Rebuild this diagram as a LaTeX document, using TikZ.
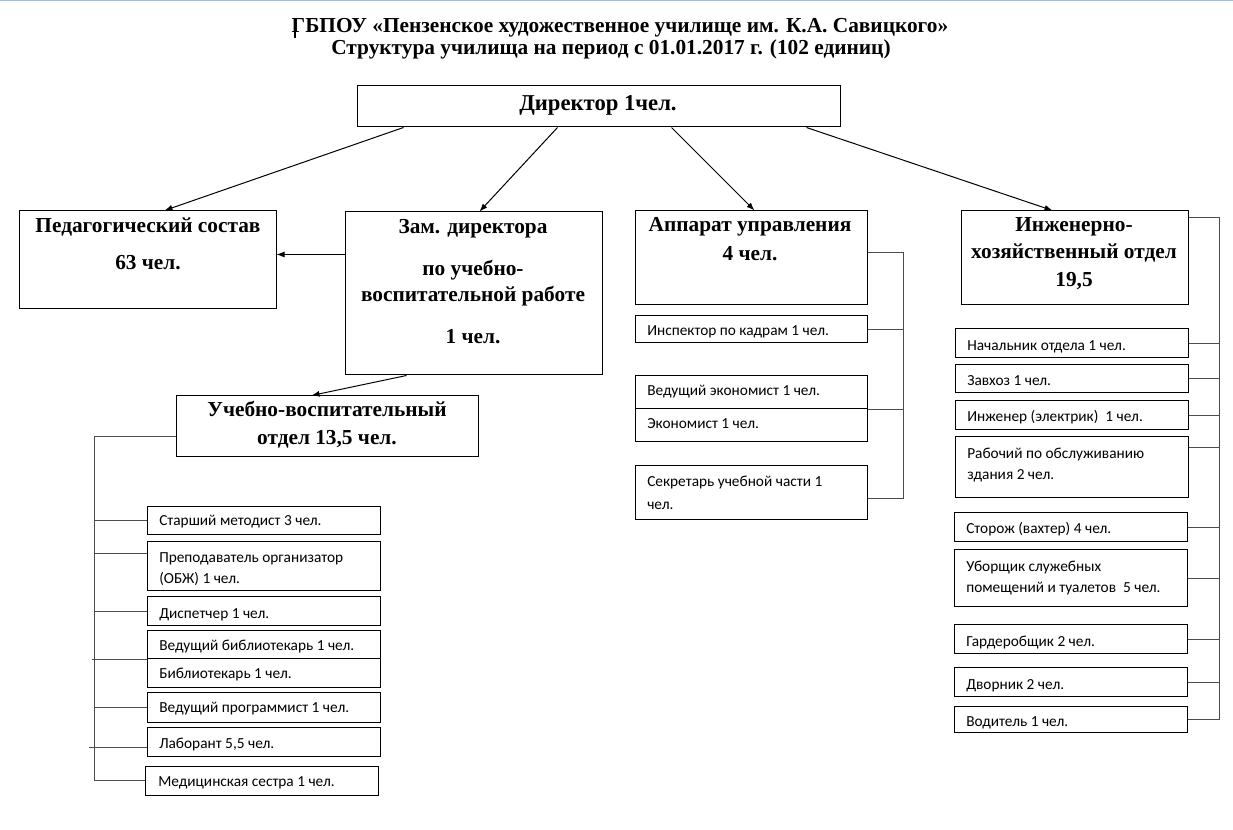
\documentclass[tikz,border=0pt]{standalone}
\usepackage{fontspec}
\setmainfont{Liberation Serif}
\newfontfamily\calfont{Carlito}
\usetikzlibrary{arrows.meta,fit,calc}
\begin{document}
\begin{tikzpicture}[x=0.75pt,y=-0.75pt,
  box/.style={draw, line width=0.75pt, inner sep=0pt},
  head/.style={font=\fontsize{16}{18}\selectfont\bfseries, anchor=mid, inner sep=0pt},
  small/.style={font=\calfont\fontsize{11.5}{13}\selectfont, anchor=mid west, inner sep=0pt},
  arr/.style={line width=0.75pt, -{Latex[length=6pt,width=4.5pt]}},
  link/.style={line width=0.75pt, draw=black!70}]
\useasboundingbox (0,0) rectangle (1233,830);
\fill[white] (0,0) rectangle (1233,830);
\draw[line width=1.5pt, color={rgb,255:red,168;green,188;blue,212}] (0,0.5) -- (1233,0.5);

% title
\node[head] (title1) at (620,29) {ГБПОУ «Пензенское художественное училище им. К.А. Савицкого»};
\node[head] (title2) at (611,51.5) {Структура училища на период с 01.01.2017 г. (102 единиц)};
\draw[line width=1.5pt] (295,19) -- (295,38);

% main boxes
\node[box, fit={(357,86) (840,127)}] (dir) {};
\node[box, fit={(19,211) (276,309)}] (ped) {};
\node[box, fit={(345,212) (602,375)}] (zam) {};
\node[box, fit={(176,396) (478,457)}] (uch) {};
\node[box, fit={(635,211) (867,305)}] (app) {};
\node[box, fit={(961,211) (1188,305)}] (ing) {};

\node[head, font=\fontsize{17}{19}\selectfont\bfseries] (tdir) at (598,107) {Директор 1чел.};
\node[head] (tped1) at (148,229) {Педагогический состав};
\node[head] (tped2) at (148,266) {63 чел.};
\node[head] (tzam1) at (473,230) {Зам. директора};
\node[head] (tzam2) at (473,272) {по учебно-};
\node[head] (tzam3) at (473,298) {воспитательной работе};
\node[head] (tzam4) at (473,340) {1 чел.};
\node[head] (tuch1) at (327,413) {Учебно-воспитательный};
\node[head] (tuch2) at (327,441) {отдел 13,5 чел.};
\node[head] (tapp1) at (750,228) {Аппарат управления};
\node[head] (tapp2) at (750,257) {4 чел.};
\node[head] (ting1) at (1074,228) {Инженерно-};
\node[head] (ting2) at (1074,255) {хозяйственный отдел};
\node[head] (ting3) at (1074,283) {19,5};

% arrows
\draw[arr] ($(dir.south west)+(47,0)$) -- ($(ped.north west)+(146,0)$);
\draw[arr] ($(dir.south west)+(201,0)$) -- ($(zam.north west)+(135,0)$);
\draw[arr] ($(dir.south west)+(315,0)$) -- ($(app.north west)+(120,0)$);
\draw[arr] ($(dir.south west)+(450,0)$) -- ($(ing.north west)+(92,0)$);
\draw[arr] ($(zam.north west)+(0,43)$) -- ($(ped.north east)+(0,44)$);
\draw[arr] ($(zam.south west)+(62,0)$) -- ($(uch.north west)+(136,0)$);

% left column
\node[box, fit={(147,507) (380,535)}] (sm) {};
\node[box, fit={(147,542) (380,591)}] (prep) {};
\node[box, fit={(147,597) (380,626)}] (disp) {};
\node[box, fit={(147,631) (380,659)}] (vbib) {};
\node[box, fit={(147,659) (380,688)}] (bib) {};
\node[box, fit={(147,693) (380,722)}] (prog) {};
\node[box, fit={(147,727) (380,756)}] (lab) {};
\node[box, fit={(145,766) (378,795)}] (med) {};
\node[small] (tsm) at (159,522) {Старший методист 3 чел.};
\node[small] (tprep1) at (159,559) {Преподаватель организатор};
\node[small] (tprep2) at (159,580) {(ОБЖ) 1 чел.};
\node[small] (tdisp) at (159,615) {Диспетчер 1 чел.};
\node[small] (tvbib) at (159,647) {Ведущий библиотекарь 1 чел.};
\node[small] (tbib) at (159,675) {Библиотекарь 1 чел.};
\node[small] (tprog) at (159,709) {Ведущий программист 1 чел.};
\node[small] (tlab) at (159,745) {Лаборант 5,5 чел.};
\node[small] (tmed) at (158,783) {Медицинская сестра 1 чел.};

\draw[link] ($(uch.north west)+(0,41)$) -- ++(-81,0) |- (med.west);
\draw[link] (sm.west) -- ++(-52,0);
\draw[link] ($(prep.north west)+(0,12)$) -- ++(-52,0);
\draw[link] (disp.west) -- ++(-52,0);
\draw[link] (vbib.south west) -- ++(-55,0);
\draw[link] (prog.west) -- ++(-52,0);
\draw[link] ($(lab.north west)+(0,21)$) -- ++(-58,0);

% apparatus column
\node[box, fit={(635,316) (867,343)}] (insp) {};
\node[box, fit={(635,376) (867,409)}] (vek) {};
\node[box, fit={(635,409) (867,442)}] (ek) {};
\node[box, fit={(635,466) (867,520)}] (sec) {};
\node[small] (tinsp) at (647,332) {Инспектор по кадрам 1 чел.};
\node[small] (tvek) at (647,392) {Ведущий экономист 1 чел.};
\node[small] (tek) at (647,425) {Экономист 1 чел.};
\node[small] (tsec1) at (647,483) {Секретарь учебной части 1};
\node[small] (tsec2) at (647,506) {чел.};

\draw[link] ($(app.north east)+(0,42)$) -| ($(sec.north east)+(36,33)$) -- ($(sec.north east)+(0,33)$);
\draw[link] (insp.east) -- ++(36,0);
\draw[link] (vek.south east) -- ++(36,0);

% engineering column
\node[box, fit={(955,329) (1188,358)}] (nach) {};
\node[box, fit={(955,365) (1188,393)}] (zav) {};
\node[box, fit={(955,401) (1188,430)}] (inzh) {};
\node[box, fit={(955,437) (1188,498)}] (rab) {};
\node[box, fit={(954,513) (1187,542)}] (stor) {};
\node[box, fit={(954,550) (1187,607)}] (ub) {};
\node[box, fit={(954,625) (1187,654)}] (gard) {};
\node[box, fit={(954,668) (1187,697)}] (dvor) {};
\node[box, fit={(954,706) (1187,732)}] (vod) {};
\node[small] (tnach) at (967,347) {Начальник отдела 1 чел.};
\node[small] (tzav) at (967,382) {Завхоз 1 чел.};
\node[small] (tinzh) at (967,418) {Инженер (электрик)\ \ 1 чел.};
\node[small] (trab1) at (967,455) {Рабочий по обслуживанию};
\node[small] (trab2) at (967,476) {здания 2 чел.};
\node[small] (tstor) at (966,530) {Сторож (вахтер) 4 чел.};
\node[small] (tub1) at (966,568) {Уборщик служебных};
\node[small] (tub2) at (966,589) {помещений и туалетов\ \ 5 чел.};
\node[small] (tgard) at (966,643) {Гардеробщик 2 чел.};
\node[small] (tdvor) at (966,686) {Дворник 2 чел.};
\node[small] (tvod) at (966,723) {Водитель 1 чел.};

\draw[link] ($(ing.north east)+(0,7)$) -- ++(31,0) |- (vod.east);
\draw[link] (nach.east) -- ++(31,0);
\draw[link] (zav.east) -- ++(31,0);
\draw[link] (inzh.east) -- ++(31,0);
\draw[link] ($(rab.north east)+(0,11)$) -- ++(31,0);
\draw[link] (stor.east) -- ++(32,0);
\draw[link] (ub.east) -- ++(32,0);
\draw[link] (gard.east) -- ++(32,0);
\draw[link] (dvor.east) -- ++(32,0);
\end{tikzpicture}
\end{document}
